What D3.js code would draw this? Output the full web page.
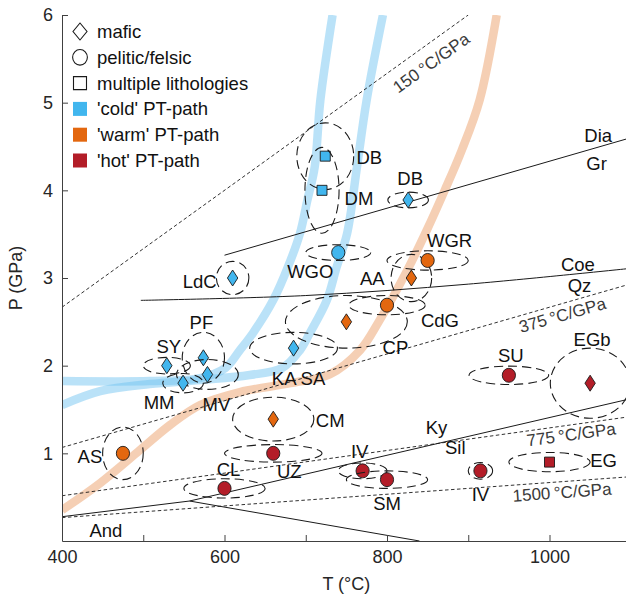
<!DOCTYPE html>
<html>
<head>
<meta charset="utf-8">
<script src="https://cdn.jsdelivr.net/npm/d3@7"></script>
<style>
  body { margin: 0; background: #fff; }
  svg { display: block; font-family: "Liberation Sans", Arial, sans-serif; }
</style>
</head>
<body>
<svg id="chart" width="626" height="599"></svg>
<script>
// --- data ---
var sites     = ['DB', 'DM', 'DB', 'WGO', 'LdC', 'KA SA', 'PF', 'SY', 'MV', 'MM',
                 'AS', 'CM', 'CP', 'CdG', 'AA', 'WGR',
                 'UZ', 'CL', 'IV', 'SM', 'IV', 'EG', 'SU', 'EGb'];
var temps     = [724, 720, 826, 740, 610, 685, 574, 529, 579, 549,
                 475, 660, 750, 800, 830, 850,
                 660, 600, 770, 800, 915, 1000, 950, 1050];
var pressures = [4.39, 4.0, 3.89, 3.29, 3.0, 2.2, 2.09, 2.0, 1.9, 1.8,
                 1.0, 1.39, 2.5, 2.69, 3.0, 3.2,
                 1.0, 0.6, 0.8, 0.7, 0.8, 0.9, 1.89, 1.8];
var tempErr   = [35, 21, 25, 40, 20, 54, 26, 29, 38, 25,
                 25, 50, 75, 47, 25, 50,
                 60, 50, 30, 50, 15, 50, 49, 49];
var presErr   = [0.38, 0.49, 0.09, 0.09, 0.19, 0.18, 0.29, 0.095, 0.17, 0.11,
                 0.30, 0.25, 0.30, 0.11, 0.27, 0.11,
                 0.10, 0.11, 0.09, 0.10, 0.095, 0.11, 0.105, 0.40];
var rockType  = ['multi', 'multi', 'mafic', 'pelitic', 'mafic', 'mafic', 'mafic', 'mafic', 'mafic', 'mafic',
                 'pelitic', 'mafic', 'mafic', 'pelitic', 'mafic', 'pelitic',
                 'pelitic', 'pelitic', 'pelitic', 'pelitic', 'pelitic', 'multi', 'pelitic', 'mafic'];
var pathType  = ['cold', 'cold', 'cold', 'cold', 'cold', 'cold', 'cold', 'cold', 'cold', 'cold',
                 'warm', 'warm', 'warm', 'warm', 'warm', 'warm',
                 'hot', 'hot', 'hot', 'hot', 'hot', 'hot', 'hot', 'hot'];

// PT paths [T, P]
var coldPathA = [[400, 1.824], [508, 1.824], [570, 1.859], [601, 1.973], [619, 2.178], [635, 2.372],
                 [660, 2.748], [678, 3.124], [693, 3.512], [702, 3.888], [711, 4.265], [718, 5.03], [733, 6.0]];
var coldPathB = [[400, 1.551], [447, 1.71], [508, 1.79], [570, 1.836], [631, 1.893], [671, 1.973],
                 [693, 2.178], [705, 2.372], [726, 2.748], [738, 3.124], [751, 3.512], [763, 4.265], [775, 5.03], [795, 6.0]];
var warmPath  = [[400, 0.353], [447, 0.661], [496, 1.038], [533, 1.323], [570, 1.551], [619, 1.699],
                 [681, 1.80], [730, 1.904], [767, 2.178], [791, 2.52], [825, 3.09], [849, 3.546],
                 [871, 4.0], [892, 4.458], [914, 5.03], [935, 6.0]];

// reaction lines [T, P]
var diaGr   = [[600, 3.26], [1100, 4.60]];
var coeQz   = [[497, 2.745], [700, 2.80], [900, 2.93], [1100, 3.11]];
var andKy   = [[400, 0.277], [557, 0.456]];
var kySil   = [[557, 0.456], [1100, 1.623]];
var andSil  = [[557, 0.456], [840, 0.0]];
var phaseNames = ['Dia', 'Gr', 'Coe', 'Qz', 'Ky', 'Sil', 'And'];

// geotherms, degC per GPa
var gradients = [150, 375, 775, 1500];

var legendLabels = ['mafic', 'pelitic/felsic', 'multiple lithologies', "'cold' PT-path", "'warm' PT-path", "'hot' PT-path"];
var legendShapes = ['mafic', 'pelitic', 'multi', 'square', 'square', 'square'];
var legendFills  = ['none', 'none', 'none', 'cold', 'warm', 'hot'];

(function() {

    var colors = { cold: '#41b6ee', warm: '#e3670f', hot: '#b31d28', none: 'none' };

    // label offsets in px from marker
    var labelDx = [44, 37, 2, -28, -33, 5, -2, 2, 9, -24, -33, 57, 49, 53, -39, 22, 16, 4, -3, 0, 0, 54, 2, 2];
    var labelDy = [1, 8, -21, 19, 4, 30, -35, -19, 30, 19, 3, 1, 26, 15, 1, -20, 18, -19, -19, 24, 24, -2, -20, -44];

    // phase-field label anchors [T, P]
    var phaseAt = [[1060, 4.63], [1058, 4.31], [1035, 3.15], [1037, 2.91], [861, 1.29], [884, 1.07], [454, 0.125]];

    // geotherm labels: T on line, perpendicular offset
    var gradLabelT = [842, 1012, 1025, 1014.5];
    var gradLabelD = [17, 11, 9.5, 10.5];

    var svg = d3.select('#chart'),
        mLeft = 62, mRight = 630.75, mTop = 15, mBottom = 541,
        fs = 18.5;

    var x = d3.scaleLinear().domain([400, 1100]).range([mLeft, mRight]);
    var y = d3.scaleLinear().domain([0, 6]).range([mBottom, mTop]);

    svg.append('defs').append('clipPath').attr('id', 'plotclip')
        .append('rect').attr('x', mLeft).attr('y', mTop).attr('width', 626 - mLeft).attr('height', mBottom - mTop);

    var plot = svg.append('g').attr('clip-path', 'url(#plotclip)');

    var line = d3.line().x(function(d) { return x(d[0]); }).y(function(d) { return y(d[1]); });
    var smooth = d3.line().curve(d3.curveCatmullRom.alpha(0.5))
        .x(function(d) { return x(d[0]); }).y(function(d) { return y(d[1]); });

    // PT path bands
    [coldPathA, coldPathB].forEach(function(p) {
        plot.append('path').attr('d', smooth(p))
            .attr('fill', 'none').attr('stroke', '#6ec3f0').attr('stroke-opacity', 0.48)
            .attr('stroke-width', 8.5);
    });
    plot.append('path').attr('d', smooth(warmPath))
        .attr('fill', 'none').attr('stroke', '#eb9a63').attr('stroke-opacity', 0.48)
        .attr('stroke-width', 8.5);

    // geotherms
    gradients.forEach(function(g, i) {
        var tEnd = Math.min(1100, g * 6);
        plot.append('path').attr('d', line([[400, 400 / g], [tEnd, tEnd / g]]))
            .attr('fill', 'none').attr('stroke', '#1a1a1a').attr('stroke-width', 0.9)
            .attr('stroke-dasharray', '3.5,2.5');

        var t0 = gradLabelT[i],
            px = x(t0), py = y(t0 / g),
            ang = Math.atan2(y((t0 + 50) / g) - py, x(t0 + 50) - px),
            nx = -Math.sin(ang) * gradLabelD[i], ny = Math.cos(ang) * gradLabelD[i];
        svg.append('text')
            .attr('transform', 'translate(' + (px + nx) + ',' + (py + ny) + ') rotate(' + (ang * 180 / Math.PI) + ')')
            .attr('text-anchor', 'middle').attr('dy', '0.35em')
            .attr('font-size', 17).attr('fill', '#3a3a3a')
            .text(g + '\u2009°C/GPa');
    });

    // reactions
    [diaGr, andKy, kySil, andSil].forEach(function(r) {
        plot.append('path').attr('d', line(r))
            .attr('fill', 'none').attr('stroke', '#1a1a1a').attr('stroke-width', 1);
    });
    plot.append('path').attr('d', smooth(coeQz))
        .attr('fill', 'none').attr('stroke', '#1a1a1a').attr('stroke-width', 1);

    svg.selectAll('text.rxn').data(phaseNames).enter().append('text')
        .attr('class', 'rxn')
        .attr('x', function(d, i) { return x(phaseAt[i][0]); })
        .attr('y', function(d, i) { return y(phaseAt[i][1]); })
        .attr('text-anchor', 'middle').attr('dy', '0.35em')
        .attr('font-size', fs).attr('fill', '#111')
        .text(function(d) { return d; });

    // markers
    function shapePath(kind, cx, cy, s) {
        s = s || 1;
        if (kind === 'mafic') {
            var w = 5.2 * s, h = 8 * s;
            return 'M' + cx + ',' + (cy - h) + 'L' + (cx + w) + ',' + cy + 'L' + cx + ',' + (cy + h) + 'L' + (cx - w) + ',' + cy + 'Z';
        }
        if (kind === 'pelitic') {
            var r = 6.6 * s, ry = 7 * s;
            return 'M' + (cx - r) + ',' + cy + 'A' + r + ',' + ry + ' 0 1,0 ' + (cx + r) + ',' + cy +
                   'A' + r + ',' + ry + ' 0 1,0 ' + (cx - r) + ',' + cy + 'Z';
        }
        var a = 5 * s;
        return 'M' + (cx - a) + ',' + (cy - a) + 'h' + (2 * a) + 'v' + (2 * a) + 'h' + (-2 * a) + 'Z';
    }

    var idx = d3.range(sites.length);
    var pts = plot.selectAll('g.site').data(idx).enter().append('g').attr('class', 'site');

    pts.append('ellipse')
        .attr('cx', function(i) { return x(temps[i]); })
        .attr('cy', function(i) { return y(pressures[i]); })
        .attr('rx', function(i) { return x(temps[i] + tempErr[i]) - x(temps[i]); })
        .attr('ry', function(i) { return y(pressures[i]) - y(pressures[i] + presErr[i]); })
        .attr('fill', 'none').attr('stroke', '#1a1a1a').attr('stroke-width', 1.1)
        .attr('stroke-dasharray', '9,5');

    pts.append('path')
        .attr('d', function(i) { return shapePath(rockType[i], x(temps[i]), y(pressures[i])); })
        .attr('fill', function(i) { return colors[pathType[i]]; })
        .attr('stroke', '#1a1a1a').attr('stroke-width', 0.9);

    svg.selectAll('text.site').data(idx).enter().append('text')
        .attr('class', 'site')
        .attr('x', function(i) { return x(temps[i]) + labelDx[i]; })
        .attr('y', function(i) { return y(pressures[i]) + labelDy[i]; })
        .attr('text-anchor', 'middle').attr('dy', '0.35em')
        .attr('font-size', fs).attr('fill', '#111')
        .text(function(i) { return sites[i]; });

    // axes
    var xAxis = d3.axisBottom(x)
        .tickValues(d3.range(400, 1101, 100))
        .tickFormat(function(d) { return d % 200 === 0 && d < 1100 ? d : ''; })
        .tickSizeInner(-6).tickSizeOuter(0).tickPadding(9);
    var yAxis = d3.axisLeft(y)
        .tickValues([1, 2, 3, 4, 5, 6])
        .tickFormat(d3.format('d'))
        .tickSizeInner(-6).tickSizeOuter(0).tickPadding(9);

    var gx = svg.append('g').attr('transform', 'translate(0,' + mBottom + ')').call(xAxis);
    var gy = svg.append('g').attr('transform', 'translate(' + mLeft + ',0)').call(yAxis);
    [gx, gy].forEach(function(g) {
        g.selectAll('path.domain').attr('stroke', '#404040').attr('stroke-width', 1);
        g.selectAll('line').attr('stroke', '#404040');
        g.selectAll('text').attr('font-size', 18).attr('fill', '#262626')
            .attr('font-family', '"Liberation Sans", Arial, sans-serif');
    });

    svg.append('text').attr('x', (mLeft + mRight) / 2).attr('y', 590)
        .attr('text-anchor', 'middle').attr('font-size', 18).attr('fill', '#262626')
        .text('T (°C)');
    svg.append('text').attr('transform', 'translate(22,' + ((mTop + mBottom) / 2) + ') rotate(-90)')
        .attr('text-anchor', 'middle').attr('font-size', 18).attr('fill', '#262626')
        .text('P (GPa)');

    // legend
    var leg = svg.append('g').selectAll('g').data(legendLabels).enter().append('g')
        .attr('transform', function(d, i) { return 'translate(80,' + (31.5 + i * 25.8) + ')'; });
    leg.append('path')
        .attr('d', function(d, i) {
            var k = legendShapes[i];
            if (k === 'square') return 'M-7,-7h14v14h-14Z';
            if (k === 'multi') return 'M-6.5,-6.5h13v13h-13Z';
            if (k === 'mafic') return 'M0,-8.5L7,0L0,8.5L-7,0Z';
            return shapePath('pelitic', 0, 0, 1.12);
        })
        .attr('fill', function(d, i) { return colors[legendFills[i]]; })
        .attr('stroke', function(d, i) { return legendFills[i] === 'none' ? '#1a1a1a' : 'none'; })
        .attr('stroke-width', 1.1);
    leg.append('text').attr('x', 17).attr('dy', '0.35em')
        .attr('font-size', fs).attr('fill', '#111')
        .text(function(d) { return d; });

}());
</script>
</body>
</html>
